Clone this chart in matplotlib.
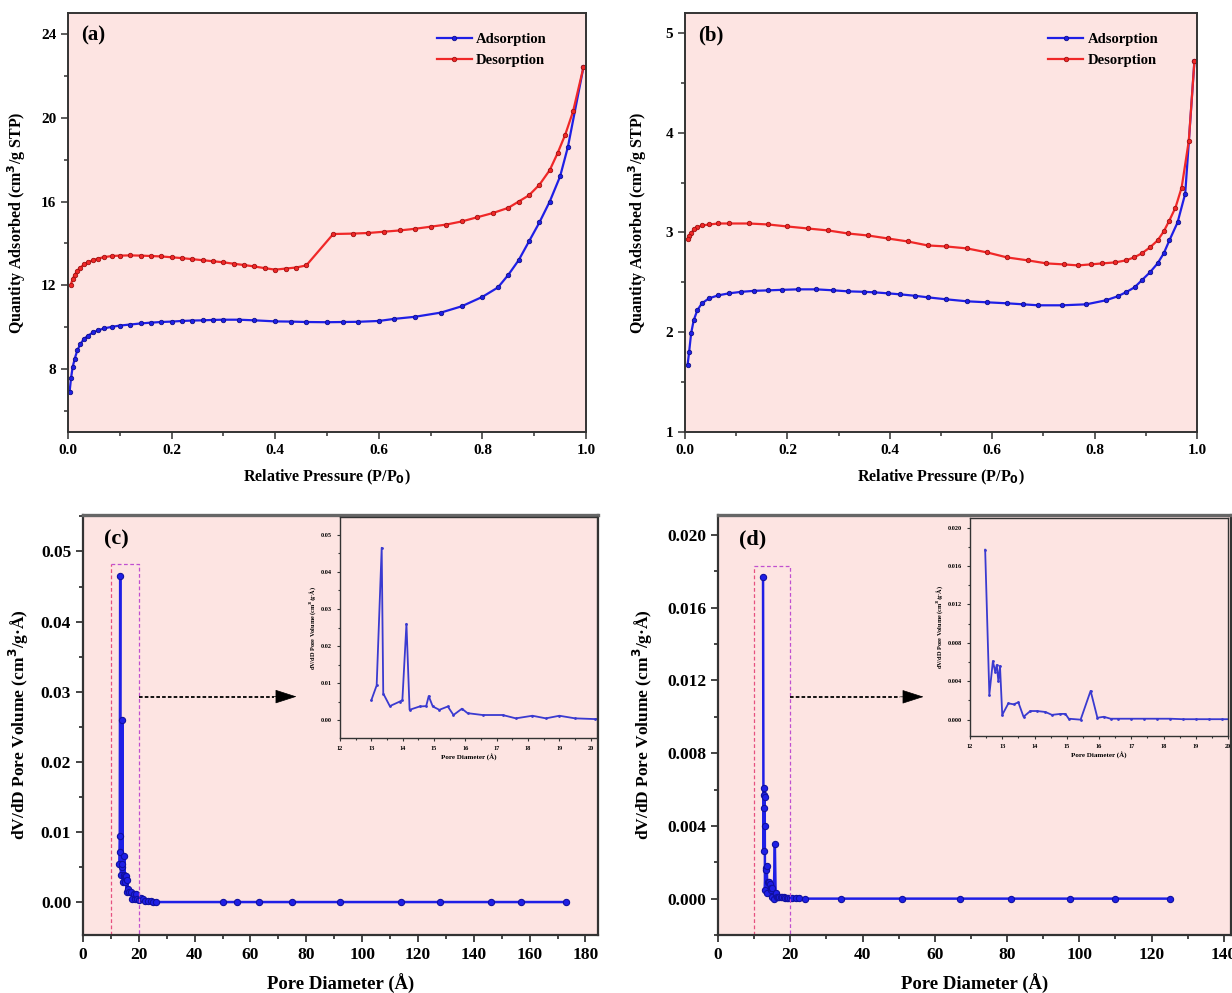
import matplotlib
matplotlib.use("Agg")
import matplotlib.pyplot as plt
from matplotlib.ticker import MultipleLocator, FormatStrFormatter

plt.rcParams['font.family'] = ['Liberation Serif', 'DejaVu Serif']
plt.rcParams['font.weight'] = 'bold'
plt.rcParams['axes.labelweight'] = 'bold'

FACE = "#fde4e2"
BLUE = "#1f1fe6"
RED = "#f02828"
SPINE = "#333333"

# ---- (a) isotherm ----
p_ads_a = [0.003, 0.006, 0.009, 0.013, 0.018, 0.024, 0.031, 0.039, 0.048, 0.058, 0.07, 0.085,
           0.10, 0.12, 0.14, 0.16, 0.18, 0.20, 0.22, 0.24, 0.26, 0.28, 0.30, 0.33, 0.36, 0.40,
           0.43, 0.46, 0.50, 0.53, 0.56, 0.60, 0.63, 0.67, 0.72, 0.76, 0.80, 0.83, 0.85, 0.87,
           0.89, 0.91, 0.93, 0.95, 0.965, 0.995]
q_ads_a = [6.9, 7.6, 8.1, 8.5, 8.9, 9.2, 9.45, 9.6, 9.75, 9.85, 9.95, 10.02,
           10.08, 10.13, 10.18, 10.22, 10.25, 10.27, 10.3, 10.32, 10.33, 10.35, 10.36, 10.36, 10.33, 10.28,
           10.27, 10.25, 10.24, 10.25, 10.26, 10.3, 10.4, 10.5, 10.7, 11.0, 11.45, 11.9, 12.5, 13.2,
           14.1, 15.0, 16.0, 17.2, 18.6, 22.4]
p_des_a = [0.995, 0.975, 0.96, 0.945, 0.93, 0.91, 0.89, 0.87, 0.85, 0.82, 0.79, 0.76, 0.73,
           0.70, 0.67, 0.64, 0.61, 0.58, 0.55, 0.512, 0.46, 0.44, 0.42, 0.40, 0.38, 0.36, 0.34,
           0.32, 0.30, 0.28, 0.26, 0.24, 0.22, 0.20, 0.18, 0.16, 0.14, 0.12, 0.10, 0.085, 0.07,
           0.058, 0.048, 0.039, 0.031, 0.024, 0.018, 0.013, 0.009, 0.005]
q_des_a = [22.4, 20.3, 19.2, 18.3, 17.5, 16.8, 16.3, 16.0, 15.7, 15.45, 15.25, 15.05, 14.9,
           14.8, 14.7, 14.62, 14.56, 14.5, 14.47, 14.45, 12.95, 12.85, 12.8, 12.75, 12.82, 12.9, 12.97,
           13.03, 13.1, 13.15, 13.2, 13.25, 13.3, 13.34, 13.38, 13.4, 13.42, 13.43, 13.42, 13.4, 13.35,
           13.28, 13.2, 13.1, 13.0, 12.85, 12.7, 12.5, 12.3, 12.0]

# ---- (b) isotherm ----
p_ads_b = [0.005, 0.008, 0.012, 0.017, 0.024, 0.033, 0.047, 0.065, 0.086, 0.11, 0.135, 0.163,
           0.19, 0.22, 0.256, 0.29, 0.318, 0.35, 0.37, 0.396, 0.42, 0.45, 0.474, 0.51, 0.551,
           0.59, 0.629, 0.66, 0.69, 0.737, 0.784, 0.822, 0.845, 0.861, 0.878, 0.892, 0.908,
           0.923, 0.935, 0.946, 0.962, 0.977, 0.995]
q_ads_b = [1.67, 1.8, 1.99, 2.12, 2.22, 2.29, 2.34, 2.37, 2.39, 2.405, 2.415, 2.42,
           2.425, 2.43, 2.43, 2.42, 2.41, 2.405, 2.40, 2.39, 2.38, 2.365, 2.35, 2.33, 2.31,
           2.30, 2.29, 2.28, 2.27, 2.27, 2.28, 2.32, 2.36, 2.40, 2.45, 2.52, 2.60,
           2.69, 2.79, 2.92, 3.1, 3.39, 4.72]
p_des_b = [0.995, 0.984, 0.97, 0.958, 0.946, 0.935, 0.923, 0.908, 0.892, 0.877, 0.861, 0.84,
           0.815, 0.792, 0.768, 0.74, 0.706, 0.67, 0.629, 0.59, 0.551, 0.51, 0.474, 0.435,
           0.396, 0.357, 0.318, 0.28, 0.24, 0.2, 0.163, 0.125, 0.086, 0.065, 0.047, 0.033,
           0.024, 0.017, 0.012, 0.008, 0.005]
q_des_b = [4.72, 3.92, 3.45, 3.25, 3.12, 3.01, 2.92, 2.85, 2.79, 2.75, 2.72, 2.70,
           2.69, 2.68, 2.67, 2.68, 2.69, 2.72, 2.75, 2.80, 2.84, 2.86, 2.87, 2.91,
           2.94, 2.97, 2.99, 3.02, 3.04, 3.06, 3.08, 3.09, 3.09, 3.09, 3.08, 3.07,
           3.05, 3.03, 2.99, 2.96, 2.93]

# ---- (c) pore size distribution ----
d_c = [13.0, 13.17, 13.33, 13.38, 13.59, 13.9, 13.99, 14.12, 14.22, 14.54, 14.75, 14.83,
       14.96, 15.17, 15.44, 15.62, 15.89, 16.07, 16.55, 17.19, 17.61, 18.14, 18.57, 19.0,
       19.5, 20.15, 20.8, 21.5, 22.3, 23.2, 24.2, 25.2, 26.2, 50, 55, 63, 75, 92, 114,
       128, 146, 157, 173]
v_c = [0.0054, 0.0094, 0.0465, 0.0072, 0.0038, 0.0050, 0.0054, 0.0260, 0.0028, 0.0037, 0.0038, 0.0065,
       0.0037, 0.0028, 0.0037, 0.0014, 0.0031, 0.0019, 0.0014, 0.0014, 0.0005, 0.0012, 0.0005, 0.0012,
       0.0005, 0.0003, 0.0006, 0.0004, 0.0002, 0.0001, 0.0001, 0.0, 0.0, 0.0, 0.0, 0.0, 0.0, 0.0, 0.0,
       0.0, 0.0, 0.0, 0.0]

# ---- (d) pore size distribution ----
d_d = [12.47, 12.60, 12.71, 12.78, 12.83, 12.88, 12.93, 13.0, 13.19, 13.35, 13.50, 13.66,
       13.87, 14.08, 14.34, 14.54, 14.80, 14.96, 15.06, 15.43, 15.74, 15.95, 16.15, 16.36,
       16.6, 17.0, 17.4, 17.8, 18.2, 18.6, 19.0, 19.4, 19.8, 20.5, 21.5, 22.5, 24, 34,
       51, 67, 81, 97.5, 110, 125]
v_d = [0.0177, 0.0026, 0.0061, 0.0050, 0.0057, 0.0040, 0.0056, 0.0005, 0.0017, 0.0016, 0.0018, 0.0003,
       0.0009, 0.0009, 0.0008, 0.0005, 0.0006, 0.0006, 0.0001, 0.0000, 0.0030, 0.0002, 0.0003, 0.0001,
       0.0001, 0.0001, 0.0001, 0.0001, 0.0001, 0.00005, 0.00005, 0.00005, 0.00005, 0.00005, 0.00003, 0.00002, 0.0, 0.0,
       0.0, 0.0, 0.0, 0.0, 0.0, 0.0]

W, H = 1232, 993


def px_axes(fig, left, top, right, bottom):
    return fig.add_axes([left / W, 1 - bottom / H, (right - left) / W, (bottom - top) / H])


def style(ax, fs, lw=1.4, major=5, minor=3):
    ax.set_facecolor(FACE)
    for s in ax.spines.values():
        s.set_color(SPINE)
        s.set_linewidth(lw)
    ax.tick_params(which='both', direction='out', top=False, right=False,
                   labelsize=fs, width=lw * 0.8, color=SPINE)
    ax.tick_params(which='major', length=major)
    ax.tick_params(which='minor', length=minor)
    for t in ax.get_xticklabels() + ax.get_yticklabels():
        t.set_fontweight('bold')


fig = plt.figure(figsize=(W / 100, H / 100), dpi=100)
fig.patch.set_facecolor('white')

iso_kw = dict(marker='o', ms=3.2, lw=1.6, mew=0.6)
leg_kw = dict(loc='upper right', bbox_to_anchor=(0.95, 0.985), frameon=False,
              handlelength=2.4, handletextpad=0.3, labelspacing=0.55,
              prop={'weight': 'bold', 'size': 10.5})

# (a)
ax = px_axes(fig, 68, 13, 586, 432)
ax.plot(p_ads_a, q_ads_a, color=BLUE, mec='#10108a', label='Adsorption', **iso_kw)
ax.plot(p_des_a, q_des_a, color=RED, mec='#a01010', label='Desorption', **iso_kw)
ax.set_xlim(0, 1.0)
ax.set_ylim(5, 25)
ax.xaxis.set_major_locator(MultipleLocator(0.2))
ax.xaxis.set_minor_locator(MultipleLocator(0.1))
ax.yaxis.set_major_locator(MultipleLocator(4))
ax.yaxis.set_minor_locator(MultipleLocator(2))
ax.xaxis.set_major_formatter(FormatStrFormatter('%.1f'))
style(ax, 11)
ax.set_xlabel('Relative Pressure (P/P$_\\mathbf{0}$)', fontsize=11.5, fontweight='bold', labelpad=8)
ax.set_ylabel('Quantity Adsorbed (cm$^\\mathbf{3}$/g STP)', fontsize=11.5, fontweight='bold', labelpad=9)
ax.text(0.025, 0.97, '(a)', transform=ax.transAxes, fontsize=15, fontweight='bold', va='top')
ax.legend(**leg_kw)

# (b)
ax = px_axes(fig, 685, 13, 1197, 432)
ax.plot(p_ads_b, q_ads_b, color=BLUE, mec='#10108a', label='Adsorption', **iso_kw)
ax.plot(p_des_b, q_des_b, color=RED, mec='#a01010', label='Desorption', **iso_kw)
ax.set_xlim(0, 1.0)
ax.set_ylim(1, 5.2)
ax.xaxis.set_major_locator(MultipleLocator(0.2))
ax.xaxis.set_minor_locator(MultipleLocator(0.1))
ax.yaxis.set_major_locator(MultipleLocator(1))
ax.yaxis.set_minor_locator(MultipleLocator(0.5))
ax.xaxis.set_major_formatter(FormatStrFormatter('%.1f'))
style(ax, 11)
ax.set_xlabel('Relative Pressure (P/P$_\\mathbf{0}$)', fontsize=11.5, fontweight='bold', labelpad=8)
ax.set_ylabel('Quantity Adsorbed (cm$^\\mathbf{3}$/g STP)', fontsize=11.5, fontweight='bold', labelpad=12)
ax.text(0.025, 0.97, '(b)', transform=ax.transAxes, fontsize=15, fontweight='bold', va='top')
ax.legend(**leg_kw)

psd_kw = dict(color=BLUE, marker='o', ms=4.5, lw=1.8, mec='#1010a0', mew=0.8)
ins_kw = dict(color='#3a3ad0', marker='.', ms=2, lw=1.3)


def zoom_box(ax, x0, x1, top, ybot, ytip, xtip, xhead):
    ax.plot([x0, x0], [ybot, top], color='#e65080', ls=(0, (3, 2)), lw=0.9)
    ax.plot([x0, x1, x1], [top, top, ybot], color='#c050d0', ls=(0, (3, 2)), lw=0.9)
    ax.plot([x1, xhead], [ytip, ytip], color='k', ls=(0, (2, 1.2)), lw=1.3)
    ax.annotate('', xy=(xtip, ytip), xytext=(xhead, ytip),
                arrowprops=dict(arrowstyle='-|>,head_length=1.4,head_width=0.45',
                                color='k', lw=0.5, shrinkA=0, shrinkB=0))


def inset_style(ax):
    style(ax, 4.5, lw=1.0, major=2.5, minor=1.5)
    ax.set_xlabel('Pore Diameter (Å)', fontsize=5, fontweight='bold', labelpad=2)
    ax.set_ylabel('dV/dD Pore Volume (cm$^\\mathbf{3}$/g·Å)', fontsize=4.5,
                  fontweight='bold', labelpad=2)


# (c)
ax = px_axes(fig, 83, 515, 598, 935)
ax.plot(d_c, v_c, **psd_kw)
ax.set_xlim(0, 184.5)
ax.set_ylim(-0.0047, 0.0552)
ax.xaxis.set_major_locator(MultipleLocator(20))
ax.xaxis.set_minor_locator(MultipleLocator(10))
ax.yaxis.set_major_locator(MultipleLocator(0.01))
ax.yaxis.set_minor_locator(MultipleLocator(0.005))
ax.yaxis.set_major_formatter(FormatStrFormatter('%.2f'))
style(ax, 12.5, lw=1.6, major=5, minor=3)
ax.spines['top'].set_linewidth(2.4)
ax.spines['top'].set_color('#666666')
ax.set_xlabel('Pore Diameter (Å)', fontsize=13.5, fontweight='bold', labelpad=8)
ax.set_ylabel('dV/dD Pore Volume (cm$^\\mathbf{3}$/g·Å)', fontsize=12.5, fontweight='bold', labelpad=7)
ax.text(0.04, 0.965, '(c)', transform=ax.transAxes, fontsize=16, fontweight='bold', va='top')
zoom_box(ax, 10, 20, 0.0482, -0.0047, 0.0293, 76.5, 68.5)

axi = px_axes(fig, 340, 517, 597, 738)
axi.plot(d_c, v_c, **ins_kw)
axi.set_xlim(12, 20.2)
axi.set_ylim(-0.0048, 0.0548)
axi.xaxis.set_major_locator(MultipleLocator(1))
axi.xaxis.set_minor_locator(MultipleLocator(0.5))
axi.yaxis.set_major_locator(MultipleLocator(0.01))
axi.yaxis.set_minor_locator(MultipleLocator(0.005))
axi.yaxis.set_major_formatter(FormatStrFormatter('%.2f'))
inset_style(axi)

# (d)
ax = px_axes(fig, 718, 515, 1231, 935)
ax.plot(d_d, v_d, **psd_kw)
ax.set_xlim(0, 142)
ax.set_ylim(-0.002, 0.0211)
ax.xaxis.set_major_locator(MultipleLocator(20))
ax.xaxis.set_minor_locator(MultipleLocator(10))
ax.yaxis.set_major_locator(MultipleLocator(0.004))
ax.yaxis.set_minor_locator(MultipleLocator(0.002))
ax.yaxis.set_major_formatter(FormatStrFormatter('%.3f'))
style(ax, 12.5, lw=1.6, major=5, minor=3)
ax.spines['top'].set_linewidth(2.4)
ax.spines['top'].set_color('#666666')
ax.set_xlabel('Pore Diameter (Å)', fontsize=13.5, fontweight='bold', labelpad=8)
ax.set_ylabel('dV/dD Pore Volume (cm$^\\mathbf{3}$/g·Å)', fontsize=12.5, fontweight='bold', labelpad=9)
ax.text(0.04, 0.965, '(d)', transform=ax.transAxes, fontsize=16, fontweight='bold', va='top')
zoom_box(ax, 10, 20, 0.0183, -0.002, 0.0111, 56.9, 50.5)

axi = px_axes(fig, 970, 518, 1228, 736)
axi.plot(d_d, v_d, **ins_kw)
axi.set_xlim(12, 20)
axi.set_ylim(-0.0017, 0.021)
axi.xaxis.set_major_locator(MultipleLocator(1))
axi.xaxis.set_minor_locator(MultipleLocator(0.5))
axi.yaxis.set_major_locator(MultipleLocator(0.004))
axi.yaxis.set_minor_locator(MultipleLocator(0.002))
axi.yaxis.set_major_formatter(FormatStrFormatter('%.3f'))
inset_style(axi)

fig.savefig("out.png", dpi=100, facecolor='white')
